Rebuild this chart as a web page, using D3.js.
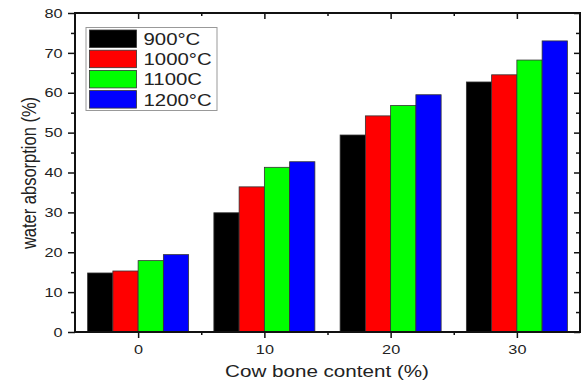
<!DOCTYPE html>
<html>
<head>
<meta charset="utf-8">
<script src="https://cdn.jsdelivr.net/npm/d3@7"></script>
<style>
  html, body { margin: 0; padding: 0; background: #fff; }
  svg { display: block; }
  text { font-family: "Liberation Sans", Arial, sans-serif; fill: #222; }
</style>
</head>
<body>
<svg id="chart" width="583" height="388"></svg>
<script>
// Cow bone content (%) on the x axis
const categories = [0, 10, 20, 30];
// Firing temperatures (legend labels) and bar colours
const seriesNames = ["900°C", "1000°C", "1100C", "1200°C"];
const seriesColors = ["#000000", "#ff0000", "#00ff00", "#0000ff"];
// Water absorption (%) per temperature, one value per bone content
const s900 = [14.8, 29.9, 49.4, 62.7];
const s1000 = [15.3, 36.4, 54.2, 64.5];
const s1100 = [17.9, 41.3, 56.8, 68.2];
const s1200 = [19.4, 42.7, 59.5, 73.0];
const seriesValues = [s900, s1000, s1100, s1200];
// Axis ticks
const yTicks = [0, 10, 20, 30, 40, 50, 60, 70, 80];
const yMinor = [5, 15, 25, 35, 45, 55, 65, 75];
const xMinor = [5, 15, 25];

const svg = d3.select("#chart");
const L = 75, R = 580, T = 13, B = 332;
const SX = 1.25; // horizontal stretch of the lettering

const x = d3.scaleLinear().domain([-5, 35]).range([L, R]);
const y = d3.scaleLinear().domain([0, 80]).range([B, T]);
const barW = 2; // bar width in x-axis units

// Bars
seriesValues.forEach((vals, si) => {
  svg.append("g").selectAll("rect")
    .data(vals.map((v, i) => ({ c: categories[i], v })))
    .join("rect")
    .attr("x", d => x(d.c - 4 + si * barW))
    .attr("width", d => x(d.c - 4 + (si + 1) * barW) - x(d.c - 4 + si * barW))
    .attr("y", d => y(d.v))
    .attr("height", d => y(0) - y(d.v))
    .attr("fill", seriesColors[si])
    .attr("stroke", "#333")
    .attr("stroke-width", 0.8);
});

const axisStyle = g => {
  g.select(".domain").remove();
  g.selectAll(".tick line").attr("stroke", "#111").attr("stroke-width", 1.5);
  g.selectAll(".tick text").attr("font-size", 13).attr("fill", "#222")
    .attr("font-family", "Liberation Sans, Arial, sans-serif");
};

// Left axis
svg.append("g").attr("transform", `translate(${L},0)`)
  .call(d3.axisLeft(y).tickValues(yTicks).tickSize(7).tickPadding(4).tickFormat(d3.format("d")))
  .call(axisStyle)
  .call(g => g.selectAll(".tick text")
    .attr("x", null).attr("transform", `translate(-12.5,0) scale(${SX},1)`));
svg.append("g").attr("transform", `translate(${L},0)`)
  .call(d3.axisLeft(y).tickValues(yMinor).tickSize(4).tickFormat(""))
  .call(axisStyle);
// Right axis (inward ticks)
svg.append("g").attr("transform", `translate(${R},0)`)
  .call(d3.axisLeft(y).tickValues(yTicks).tickSize(6).tickFormat(""))
  .call(axisStyle);
svg.append("g").attr("transform", `translate(${R},0)`)
  .call(d3.axisLeft(y).tickValues(yMinor).tickSize(4).tickFormat(""))
  .call(axisStyle);

// Bottom axis
svg.append("g").attr("transform", `translate(0,${B})`)
  .call(d3.axisBottom(x).tickValues(categories).tickSize(6).tickPadding(7).tickFormat(d3.format("d")))
  .call(axisStyle)
  .call(g => g.selectAll(".tick text").attr("transform", `scale(${SX},1)`));
svg.append("g").attr("transform", `translate(0,${B})`)
  .call(d3.axisBottom(x).tickValues(xMinor).tickSize(3).tickFormat(""))
  .call(axisStyle);
// Top axis (inward ticks)
svg.append("g").attr("transform", `translate(0,${T})`)
  .call(d3.axisBottom(x).tickValues(categories).tickSize(6).tickFormat(""))
  .call(axisStyle);
svg.append("g").attr("transform", `translate(0,${T})`)
  .call(d3.axisBottom(x).tickValues(xMinor).tickSize(3).tickFormat(""))
  .call(axisStyle);

// Frame
svg.append("rect")
  .attr("x", L).attr("y", T).attr("width", R - L).attr("height", B - T)
  .attr("fill", "none").attr("stroke", "#111").attr("stroke-width", 2);

// Axis titles
svg.append("text")
  .attr("transform", `translate(327,377) scale(${SX},1)`)
  .attr("text-anchor", "middle").attr("font-size", 16.5)
  .text("Cow bone content (%)");
svg.append("text")
  .attr("transform", `translate(36,173) scale(${SX},1) rotate(-90)`)
  .attr("text-anchor", "middle").attr("font-size", 16.5)
  .text("water absorption (%)");

// Legend
const lg = svg.append("g");
lg.append("rect")
  .attr("x", 86).attr("y", 27.5).attr("width", 131).attr("height", 83)
  .attr("fill", "#fff").attr("stroke", "#999").attr("stroke-width", 1);
seriesNames.forEach((name, i) => {
  const yy = 30 + i * 20.2;
  lg.append("rect")
    .attr("x", 89.5).attr("y", yy).attr("width", 47).attr("height", 17.5)
    .attr("fill", seriesColors[i]).attr("stroke", "#333").attr("stroke-width", 0.8);
  lg.append("text")
    .attr("transform", `translate(143.5,${yy + 15}) scale(${SX},1)`)
    .attr("font-size", 16.3)
    .text(name);
});
</script>
</body>
</html>
